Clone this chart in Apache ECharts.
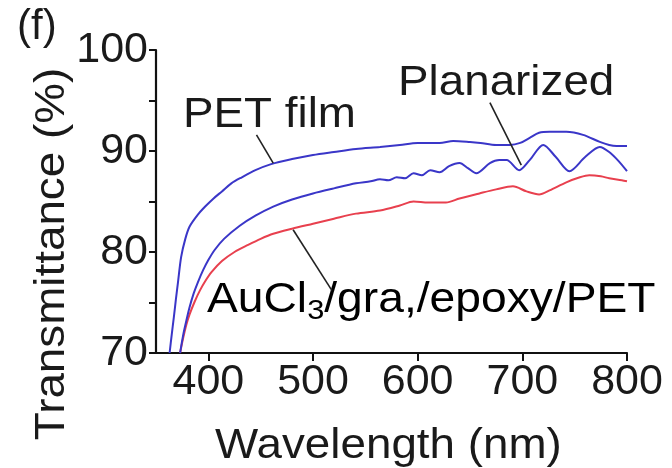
<!DOCTYPE html>
<html>
<head>
<meta charset="utf-8">
<script src="https://cdn.jsdelivr.net/npm/echarts@6/dist/echarts.min.js"></script>
<style>
  html, body { margin: 0; padding: 0; background: #fff; }
  #chart { width: 672px; height: 468px; }
</style>
</head>
<body>
<div id="chart"></div>
<script>
// Transmittance spectra (wavelength in nm, transmittance in %)
const petX  = [363, 365, 367, 369, 371, 374, 378, 382, 390, 397, 405, 413, 422, 432, 445, 460, 480, 500, 520, 541, 564, 583, 600, 621, 634, 650, 660, 675, 688, 698, 707, 716, 726, 742, 758, 774, 783, 790, 800];
const petY  = [70, 71.8, 73.5, 75.3, 77.0, 79.5, 81.3, 82.5, 83.7, 84.5, 85.3, 86.0, 86.8, 87.4, 88.1, 88.7, 89.2, 89.6, 89.9, 90.2, 90.4, 90.6, 90.8, 90.8, 91.0, 90.9, 90.8, 90.6, 90.6, 90.8, 91.3, 91.8, 91.9, 91.9, 91.6, 90.9, 90.6, 90.5, 90.5];

const planX = [373, 376, 379, 382, 386, 390, 395, 400, 406, 415, 430, 445, 462, 480, 500, 520, 541, 555, 564, 572, 580, 588, 596, 604, 612, 621, 630, 640, 648, 656, 669, 678, 685, 697, 707, 720, 732, 745, 760, 774, 783, 792, 800];
const planY = [70, 71.8, 73.2, 74.5, 75.9, 77.0, 78.2, 79.2, 80.2, 81.3, 82.6, 83.6, 84.5, 85.2, 85.8, 86.3, 86.8, 87.0, 87.2, 87.1, 87.4, 87.3, 87.8, 87.6, 88.1, 87.9, 88.5, 88.8, 88.3, 87.8, 88.8, 89.1, 89.1, 88.1, 89.1, 90.6, 89.4, 88.0, 89.4, 90.4, 89.9, 89.0, 88.0];

const auX   = [373, 376, 379, 382, 387, 392, 397, 403, 413, 425, 438, 450, 462, 480, 500, 520, 541, 564, 583, 596, 610, 627, 640, 659, 675, 691, 704, 716, 726, 742, 755, 764, 775, 783, 795, 800];
const auY   = [70, 71.5, 72.8, 73.8, 75.1, 76.2, 77.1, 78.0, 79.1, 80.0, 80.7, 81.3, 81.8, 82.3, 82.8, 83.3, 83.8, 84.1, 84.6, 85.0, 84.9, 84.9, 85.3, 85.8, 86.2, 86.5, 86.0, 85.7, 86.1, 86.9, 87.4, 87.6, 87.5, 87.3, 87.1, 87.0];

// Axis ticks
const xTicks = [400, 500, 600, 700, 800];

// Leader lines from the annotation text to each curve, in data units
const leaderPet  = [[446, 91.6], [462, 88.8]];
const leaderPlan = [[669, 94.8], [699, 88.6]];
const leaderAu   = [[481, 82.2], [518, 76.2]];

const FONT = '"Liberation Sans", Arial, Helvetica, sans-serif';
const INK = '#1a1a1a';
const BLUE = '#3a36c8';
const RED = '#e8404e';
const WIDE = 1.09; // horizontal stretch of the annotation lettering

const zip = (xs, ys) => xs.map((x, i) => [x, ys[i]]);

const chart = echarts.init(document.getElementById('chart'), null, { renderer: 'canvas' });

const leader = (pts) => ({
  symbol: ['none', 'none'],
  silent: true,
  label: { show: false },
  lineStyle: { color: '#222', width: 1.6, type: 'solid' },
  data: [[{ coord: pts[0] }, { coord: pts[1] }]]
});

const label = (text, x, y, extra) => Object.assign({
  type: 'text', x: x, y: y, scaleX: WIDE,
  style: { text: text, font: '42px ' + FONT, fill: INK, textVerticalAlign: 'top' }
}, extra || {});

chart.setOption({
  animation: false,
  backgroundColor: '#ffffff',
  grid: { left: 156, right: 45, top: 50, bottom: 115, outerBoundsMode: 'none', containLabel: false },
  xAxis: {
    type: 'value',
    min: 350, max: 800,
    axisLine: { lineStyle: { color: '#111', width: 2.2 } },
    axisTick: { show: true, length: 8, lineStyle: { color: '#111', width: 2 }, customValues: xTicks },
    axisLabel: { fontFamily: FONT, fontSize: 43, color: INK, margin: 8, customValues: xTicks },
    splitLine: { show: false }
  },
  yAxis: {
    type: 'value',
    min: 70, max: 100, interval: 10,
    axisLine: { show: true, lineStyle: { color: '#111', width: 2.2 } },
    axisTick: { show: true, length: 7, lineStyle: { color: '#111', width: 2 } },
    minorTick: { show: true, splitNumber: 2, length: 7, lineStyle: { color: '#111', width: 2 } },
    axisLabel: { fontFamily: FONT, fontSize: 43, color: INK, margin: 8 },
    splitLine: { show: false }
  },
  series: [
    {
      name: 'AuCl3/gra./epoxy/PET',
      type: 'line',
      data: zip(auX, auY),
      showSymbol: false,
      smooth: 0.3,
      lineStyle: { color: RED, width: 2 },
      z: 2,
      markLine: leader(leaderAu)
    },
    {
      name: 'Planarized',
      type: 'line',
      data: zip(planX, planY),
      showSymbol: false,
      smooth: 0.3,
      lineStyle: { color: BLUE, width: 2 },
      z: 3,
      markLine: leader(leaderPlan)
    },
    {
      name: 'PET film',
      type: 'line',
      data: zip(petX, petY),
      showSymbol: false,
      smooth: 0.3,
      lineStyle: { color: BLUE, width: 2 },
      z: 4,
      markLine: leader(leaderPet)
    }
  ],
  graphic: [
    label('(f)', 17, 6, { scaleX: 1 }),
    label('PET film', 183, 94),
    label('Planarized', 398, 62),
    label('Wavelength (nm)', 215, 425),
    {
      type: 'text', x: 52, y: 254, rotation: Math.PI / 2, scaleX: WIDE,
      style: { text: 'Transmittance (%)', font: '42px ' + FONT, fill: INK, textAlign: 'center', textVerticalAlign: 'middle' }
    },
    {
      type: 'text', x: 207, y: 275, scaleX: 1.1,
      style: {
        text: '{a|AuCl}{s|3}{a|/gra,/epoxy/PET}',
        rich: {
          a: { fontFamily: FONT, fontSize: 42, color: INK },
          s: { fontFamily: FONT, fontSize: 28, color: INK, padding: [22, 0, 0, 0] }
        }
      }
    }
  ]
});
</script>
</body>
</html>
